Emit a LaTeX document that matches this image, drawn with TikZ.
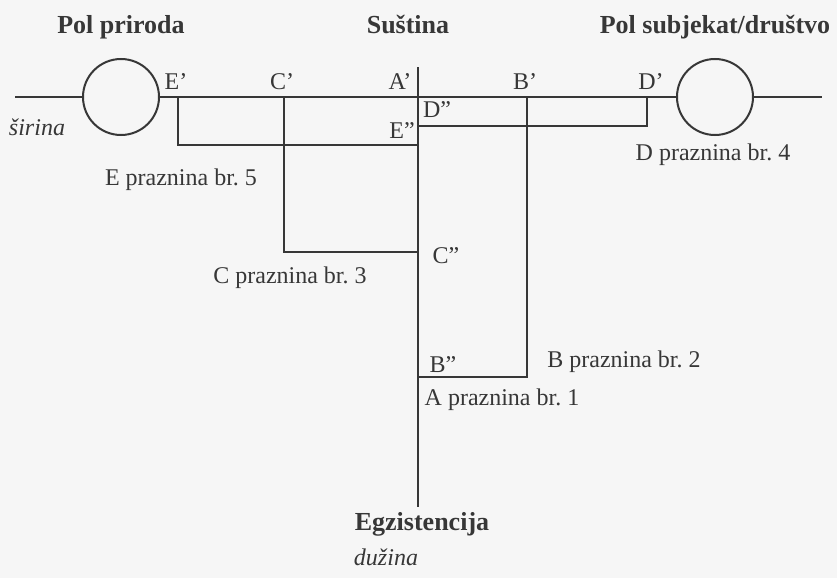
\documentclass[tikz,border=0pt]{standalone}
\usepackage{fontspec}
\setmainfont{Liberation Serif}
\frenchspacing
\definecolor{ink}{RGB}{55,55,55}
\definecolor{paper}{RGB}{246,246,246}
\tikzset{
  axisline/.style={ink, line width=1.4pt},
  gapline/.style={ink, line width=0.6pt},
  pole/.style={circle, draw=ink, line width=1pt, minimum size=38pt, inner sep=0pt},
  lbl/.style={ink, font=\fontsize{12}{14}\selectfont, inner sep=0pt, anchor=base},
  title/.style={lbl, font=\fontsize{13}{15}\selectfont\bfseries},
  axisname/.style={lbl, font=\fontsize{12}{14}\selectfont\itshape},
}
\begin{document}
\begin{tikzpicture}[x=0.5pt, y=-0.5pt]
    \fill[paper] (0,0) rectangle (837,578);
    \useasboundingbox (0,0) rectangle (837,578);
    % poles and axes
    \node[pole] (nature) at (121,97) {};
    \node[pole] (society) at (715,97) {};
    \coordinate (w-end) at (15,97);
    \coordinate (e-end) at (822,97);
    \coordinate (top) at (418,67);
    \coordinate (bottom) at (418,507);
    \draw[axisline] (w-end) -- (nature.west);
    \draw[axisline] (nature.east) -- (society.west);
    \draw[axisline] (society.east) -- (e-end);
    \draw[axisline] (top) -- (bottom);
    % gaps
    \foreach \g/\x/\y in {E/178/145, C/284/252, B/527/377, D/647/126} {
        \coordinate (\g-p) at (\x,97);
        \coordinate (\g-c) at (\x,\y);
        \coordinate (\g-pp) at (418,\y);
        \draw[gapline] (\g-p) -- (\g-c) -- (\g-pp);
    }
    % titles
    \node[title] (t-nature) at (121,33) {Pol priroda};
    \node[title] (t-essence) at (408,33) {Suština};
    \node[title] (t-society) at (715,33) {Pol subjekat/društvo};
    \node[title] (t-exist) at (422,530) {Egzistencija};
    \node[axisname] (t-width) at (37,135) {širina};
    \node[axisname] (t-length) at (386,565) {dužina};
    % point labels
    \foreach \name/\txt/\x/\y in {ep/E’/176/90, cp/C’/282/90, ap/A’/400/90,
        bp/B’/525/90, dp/D’/651/90, epp/E”/402/138, dpp/D”/437/118,
        cpp/C”/446/263, bpp/B”/443/372} {
        \node[lbl] (l-\name) at (\x,\y) {\txt};
    }
    % gap captions
    \node[lbl] (cap-E) at (181,185) {E praznina br. 5};
    \node[lbl] (cap-D) at (713,160) {D praznina br. 4};
    \node[lbl] (cap-C) at (290,283) {C praznina br. 3};
    \node[lbl] (cap-B) at (624,367) {B praznina br. 2};
    \node[lbl] (cap-A) at (502,405) {A praznina br. 1};
\end{tikzpicture}
\end{document}
